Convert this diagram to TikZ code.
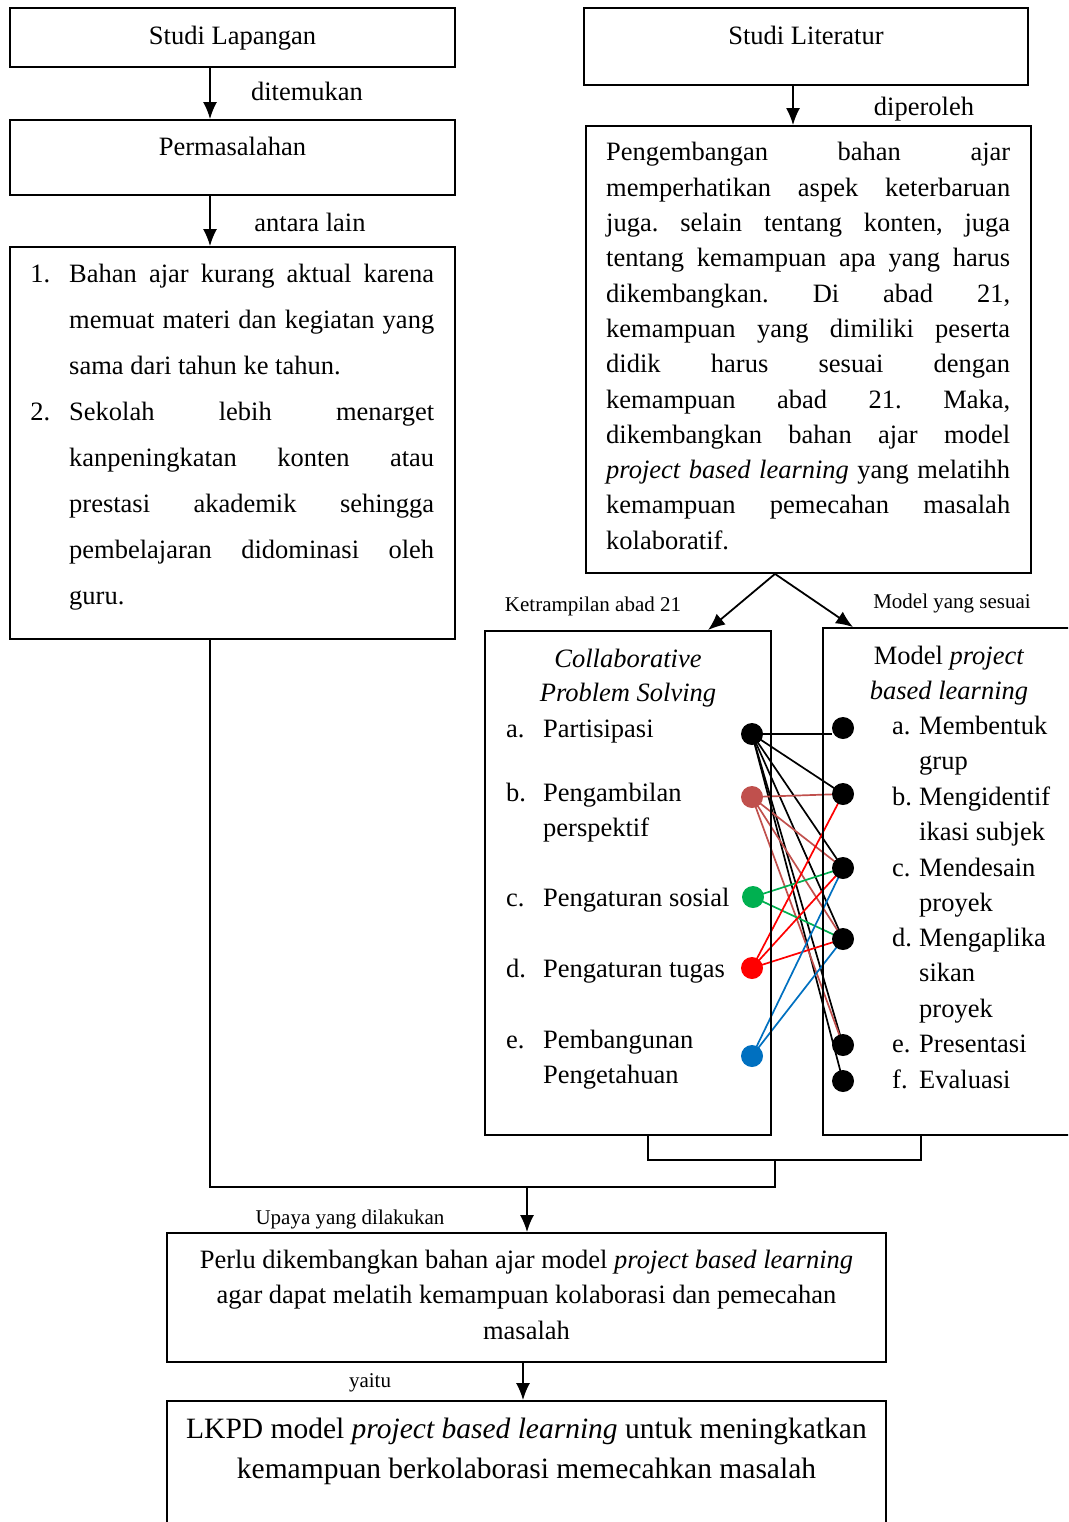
\documentclass[tikz,border=0pt]{standalone}
\usepackage{fontspec}
\setmainfont{Liberation Serif}
\usetikzlibrary{arrows.meta, positioning, backgrounds}
\definecolor{dotbrown}{HTML}{C0504D}
\definecolor{dotgreen}{HTML}{00B050}
\definecolor{dotred}{HTML}{FF0000}
\definecolor{dotblue}{HTML}{0070C0}
\newcommand\bodysize{\fontsize{26.5}{35.3}\selectfont}
\newcommand\lblsize{\fontsize{21}{25}\selectfont}
\tikzset{box/.style={draw, line width=1.8pt, inner sep=0pt}}
\tikzset{flow/.style={line width=1.8pt, -{Latex[length=17pt,width=14pt]}}}
\tikzset{line/.style={line width=1.8pt}}
\tikzset{link/.style={line width=1.7pt}}
\tikzset{txt/.style={inner sep=0pt, font=\bodysize}}
\tikzset{lbl/.style={inner sep=0pt, font=\lblsize, anchor=base}}
\tikzset{dot/.style={circle, inner sep=0pt, minimum size=22pt}}

\begin{document}
\begin{tikzpicture}[x=1pt, y=-1pt]
        \useasboundingbox (0,0) rectangle (1068,1522);
        \clip (0,0) rectangle (1068,1522);
        % Boxes
        \node[box, minimum width=445, minimum height=59] (lap) at (232.5,37.5) {};
        \node[box, minimum width=445, minimum height=75] (mas) at (232.5,157.5) {};
        \node[box, minimum width=445, minimum height=392] (lst) at (232.5,443) {};
        \node[box, minimum width=444, minimum height=77] (lit) at (806,46.5) {};
        \node[box, minimum width=445, minimum height=447] (dev) at (808.5,349.5) {};
        \node[box, minimum width=286, minimum height=504] (cps) at (628,883) {};
        \node[box, minimum width=267, minimum height=507] (pjb) at (956.5,881.5) {};
        \node[box, minimum width=719, minimum height=129] (plu) at (526.5,1297.5) {};
        \node[box, minimum width=719, minimum height=149] (lkp) at (526.5,1475.5) {};
        % Texts (multi-line nodes sit on their last baseline)
        \node[txt, anchor=base] (lapt) at (232.5,45) {Studi Lapangan};
        \node[txt, anchor=base] (mast) at (232.5,156) {Permasalahan};
        \node[txt, anchor=base] (litt) at (806,45) {Studi Literatur};
        \node[txt, anchor=base west, text width=365, align=justify,
              font=\fontsize{26.5}{46}\selectfont] (lstt) at (69,282)
          {\frenchspacing\tolerance=10000\hyphenpenalty=10000
           \leavevmode\llap{1.\hskip 19pt}Bahan ajar kurang aktual karena\linebreak
           memuat materi dan kegiatan yang\linebreak
           sama dari tahun ke tahun.\par
           \leavevmode\llap{2.\hskip 19pt}Sekolah lebih menarget\linebreak
           kanpeningkatan konten atau\linebreak
           prestasi akademik sehingga\linebreak
           pembelajaran didominasi oleh\linebreak
           guru.};
        \node[txt, anchor=base west, text width=404, align=justify] (devt) at (606,161)
          {\frenchspacing\tolerance=10000\hyphenpenalty=10000
           Pengembangan bahan ajar\linebreak
           memperhatikan aspek keterbaruan\linebreak
           juga. selain tentang konten, juga\linebreak
           tentang kemampuan apa yang harus\linebreak
           dikembangkan. Di abad 21,\linebreak
           kemampuan yang dimiliki peserta\linebreak
           didik harus sesuai dengan\linebreak
           kemampuan abad 21. Maka,\linebreak
           dikembangkan bahan ajar model\linebreak
           \textit{project based learning} yang melatihh\linebreak
           kemampuan pemecahan masalah\linebreak
           kolaboratif.};
        \node[txt, anchor=base, align=center, font=\fontsize{26.5}{34}\selectfont] (cpst) at (628,701)
          {\textit{Collaborative}\\\textit{Problem Solving}};
        \foreach \yy/\nl/\lab/\itm [count=\i] in {737/0/a./Partisipasi, 801/1/b./{Pengambilan\\perspektif},
            906/0/c./Pengaturan sosial, 977/0/d./Pengaturan tugas, 1048/1/e./{Pembangunan\\Pengetahuan}} {
          \node[txt, anchor=base west] (cpsl\i) at (506,\yy) {\lab};
          \node[txt, anchor=base west, align=left] (cpsi\i) at (543,{\yy+\nl*35.3}) {\itm};
        }
        \node[txt, anchor=base, align=center, font=\fontsize{26.5}{35}\selectfont] (pjbt) at (949,699)
          {Model \textit{project}\\\textit{based learning}};
        \foreach \yy/\nl/\lab/\itm [count=\i] in {734/1/a./{Membentuk\\grup}, 805/1/b./{Mengidentif\\ikasi subjek},
            876/1/c./{Mendesain\\proyek}, 946/2/d./{Mengaplika\\sikan\\proyek}, 1052/0/e./Presentasi, 1088/0/f./Evaluasi} {
          \node[txt, anchor=base west] (pjbl\i) at (892,\yy) {\lab};
          \node[txt, anchor=base west, align=left, font=\fontsize{26.5}{35.5}\selectfont] (pjbi\i)
            at (919,{\yy+\nl*35.5}) {\itm};
        }
        \node[txt, anchor=base, align=center, font=\fontsize{26.5}{35.5}\selectfont] (plut) at (526.5,1339)
          {Perlu dikembangkan bahan ajar model \textit{project based learning}\\
           agar dapat melatih kemampuan kolaborasi dan pemecahan\\masalah};
        \node[txt, anchor=base, align=center, font=\fontsize{29.5}{40}\selectfont] (lkpt) at (526.5,1478)
          {LKPD model \textit{project based learning} untuk meningkatkan\\
           kemampuan berkolaborasi memecahkan masalah};
        % Labels
        \node[txt, anchor=base] (ditm) at (307,101) {ditemukan};
        \node[txt, anchor=base] (antr) at (310,232) {antara lain};
        \node[txt, anchor=base] (dipr) at (924,116) {diperoleh};
        \node[lbl] (ketr) at (593,611) {Ketrampilan abad 21};
        \node[lbl] (mods) at (952,608) {Model yang sesuai};
        \node[lbl] (upay) at (350,1224) {Upaya yang dilakukan};
        \node[lbl] (yait) at (370,1387) {yaitu};
        % Arrows
        \coordinate (colA) at (210,0);
        \coordinate (colB) at (793,0);
        \coordinate (colC) at (775,0);
        \coordinate (colD) at (527,0);
        \coordinate (colE) at (523,0);
        \draw[flow] (colA |- lap.south) -- (colA |- mas.north);
        \draw[flow] (colA |- mas.south) -- (colA |- lst.north);
        \draw[flow] (colB |- lit.south) -- (colB |- dev.north);
        \draw[flow] (colC |- dev.south) -- ([xshift=80pt]cps.north);
        \draw[flow] (colC |- dev.south) -- ([xshift=-103.5pt]pjb.north);
        \coordinate (brk) at (775,1160);
        \coordinate (join) at (775,1187);
        \draw[line] ([xshift=20pt]cps.south) |- (brk) -| ([xshift=-35.5pt]pjb.south);
        \draw[line] (brk) -- (join) -- (colA |- join) -- (colA |- lst.south);
        \draw[flow] (colD |- join) -- (colD |- plu.north);
        \draw[flow] (colE |- plu.south) -- (colE |- lkp.north);
        % Dots
        \node[dot, fill=black] (L1) at (752,734) {};
        \node[dot, fill=dotbrown] (L2) at (752,797) {};
        \node[dot, fill=dotgreen] (L3) at (753,897) {};
        \node[dot, fill=dotred] (L4) at (752,968) {};
        \node[dot, fill=dotblue] (L5) at (752,1056) {};
        \foreach \yy [count=\i] in {728,794,868,939,1045,1081} {
          \node[dot, fill=black] (R\i) at (843,\yy) {};
        }
        \begin{scope}[on background layer]
          \draw[link] (L1.center) -- (R1.west |- L1.center);
          \foreach \from/\to/\col in {L1/R2/black, L1/R3/black, L1/R4/black, L1/R5/black,
              L1/R6/black, L2/R2/dotbrown, L2/R3/dotbrown, L2/R4/dotbrown, L2/R5/dotbrown,
              L3/R3/dotgreen, L3/R4/dotgreen, L4/R2/dotred, L4/R3/dotred, L4/R4/dotred,
              L5/R3/dotblue, L5/R4/dotblue} {
            \draw[link, \col] (\from.center) -- (\to.center);
          }
        \end{scope}
\end{tikzpicture}
\end{document}
